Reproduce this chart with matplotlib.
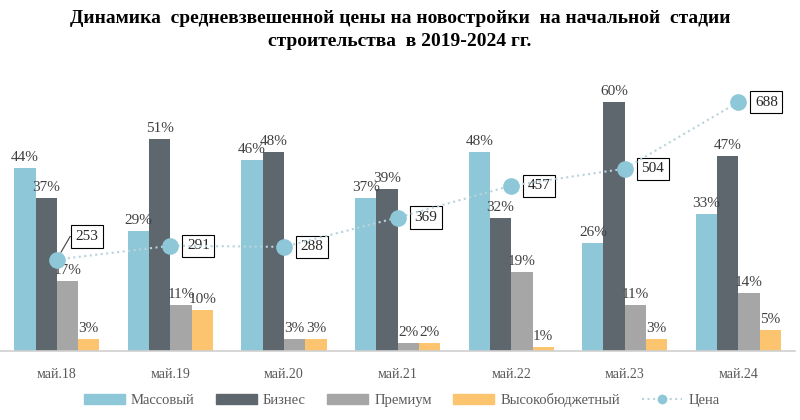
import numpy as np
import matplotlib
matplotlib.use('Agg')
import matplotlib.pyplot as plt
from matplotlib.lines import Line2D
from matplotlib.patches import Patch

plt.rcParams['font.family'] = ['Liberation Serif', 'DejaVu Serif']

periods = ['май.18', 'май.19', 'май.20', 'май.21', 'май.22', 'май.23', 'май.24']
massovy = [44, 29, 46, 37, 48, 26, 33]
biznes = [37, 51, 48, 39, 32, 60, 47]
premium = [17, 11, 3, 2, 19, 11, 14]
vysoko = [3, 10, 3, 2, 1, 3, 5]
price = [253, 291, 288, 369, 457, 504, 688]

series = [massovy, biznes, premium, vysoko]
names = ['Массовый', 'Бизнес', 'Премиум', 'Высокобюджетный']
colors = ['#8ec8d8', '#5e666e', '#a6a6a6', '#fcc46e']
line_color = '#8ec8d8'

fig = plt.figure(figsize=(8, 4.2), dpi=100)
ax = fig.add_axes([0.0, 0.164, 0.994, 0.6424])

x = np.arange(len(periods))
w = 0.1875
for i, (vals, c) in enumerate(zip(series, colors)):
    pos = x + (i - 1.5) * w
    ax.bar(pos, vals, w, color=c, zorder=2)
    for xp, v in zip(pos, vals):
        ax.annotate('{}%'.format(v), (xp, v), xytext=(0, 4), textcoords='offset pixels',
                    ha='center', va='bottom', fontsize=11, color='#404040', zorder=3)

ax.set_xlim(-0.5, 6.5)
ax.set_ylim(0, 65)
ax.set_xticks(x)
ax.set_xticklabels(periods, fontsize=10, color='#595959')
ax.tick_params(axis='x', length=0, pad=12)
ax.set_yticks([])
for s in ['top', 'right', 'left']:
    ax.spines[s].set_visible(False)
ax.spines['bottom'].set_color('#d0d0d0')
ax.spines['bottom'].set_linewidth(1.2)

ax2 = ax.twinx()
ax2.set_ylim(0, 65 * 688 / 60.)
ax2.set_yticks([])
for s in ax2.spines.values():
    s.set_visible(False)
ax2.plot(x, price, linestyle=':', color='#b9d3db', lw=1.5, marker='o',
         markersize=11, markerfacecolor=line_color, markeredgecolor=line_color, zorder=4)

box = dict(boxstyle='square,pad=0.3', fc='white', ec='black', lw=0.8)
for i, p in enumerate(price):
    if i == 0:
        ax2.annotate(str(p), (x[i], p), xytext=(30, 23), textcoords='offset pixels',
                     ha='center', va='center', fontsize=11, color='#262626', bbox=box,
                     arrowprops=dict(arrowstyle='-', color='#404040', lw=0.8,
                                     shrinkA=0, shrinkB=6, connectionstyle='angle,angleA=0,angleB=60'))
    else:
        ax2.annotate(str(p), (x[i], p), xytext=(28, 0), textcoords='offset pixels',
                     ha='center', va='center', fontsize=11, color='#262626', bbox=box)

fig.text(0.5, 0.955, 'Динамика  средневзвешенной цены на новостройки  на начальной  стадии',
         ha='center', va='center', fontsize=14, fontweight='bold', color='black')
fig.text(0.5, 0.902, 'строительства  в 2019-2024 гг.',
         ha='center', va='center', fontsize=14, fontweight='bold', color='black')

handles = [Patch(color=c) for c in colors]
handles.append(Line2D([0], [0], linestyle=':', color='#b9d3db', lw=1.5, marker='o',
                      markersize=6, markerfacecolor=line_color, markeredgecolor=line_color))
leg = fig.legend(handles, names + ['Цена'], loc='center', bbox_to_anchor=(0.502, 0.047),
                 ncol=5, frameon=False, fontsize=10.5, handlelength=2.8, handleheight=0.6,
                 handletextpad=0.4, columnspacing=1.5)
for t in leg.get_texts():
    t.set_color('#595959')

fig.savefig('out.png', dpi=100)
